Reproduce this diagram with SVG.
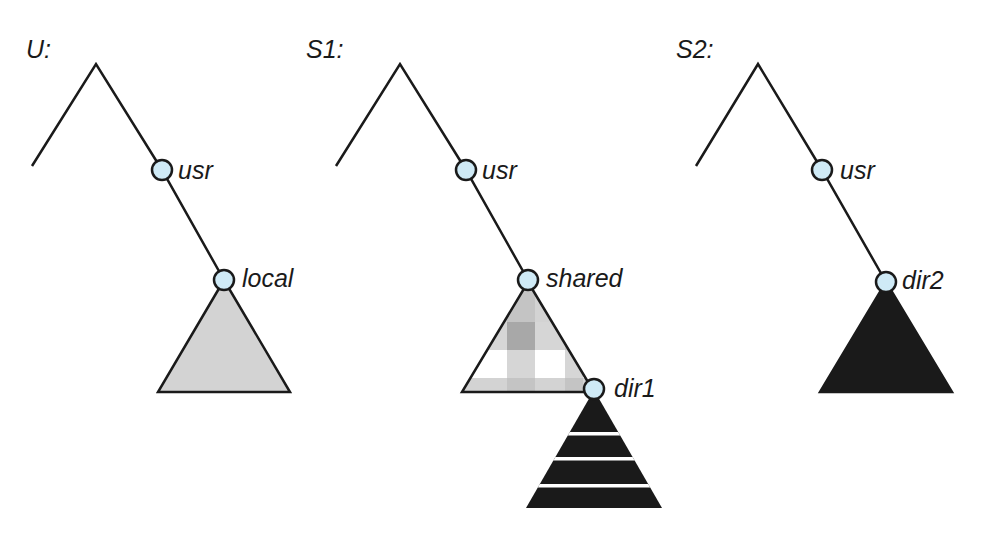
<svg xmlns="http://www.w3.org/2000/svg" width="984" height="544" viewBox="0 0 984 544">
<defs>
<style>
.l{stroke:#1a1a1a;stroke-width:2.5;fill:none}
.n{fill:#cfeaf6;stroke:#1a1a1a;stroke-width:2.5}
.t{font-family:"Liberation Sans",Arial,sans-serif;font-style:italic;font-size:25px;fill:#1a1a1a}
.tri{stroke:#1a1a1a;stroke-width:2.5;stroke-linejoin:miter}
</style>
<clipPath id="c1"><polygon points="528,282 462,392 594,392"/></clipPath>
<clipPath id="c2"><polygon points="594,390 526,508 662,508"/></clipPath>
</defs>
<g id="connectors">
<polyline class="l" points="32,166 96,64 162,170 224,280"/>
<polyline class="l" points="336,166 400,64 466,170 528,280"/>
<polyline class="l" points="696,166 758,64 822,170 886,282"/>
</g>
<g id="labels">
<text class="t" x="26" y="58">U:</text>
<text class="t" x="306" y="58">S1:</text>
<text class="t" x="676" y="58">S2:</text>
</g>
<g id="local">
<polygon class="tri" points="224,280 158,392 290,392" fill="#d3d3d3"/>
</g>
<g id="shared">
<g clip-path="url(#c1)">
<rect x="450" y="270" width="160" height="130" fill="#fff"/>
<rect x="450" y="270" width="160" height="52" fill="#d3d3d3"/>
<rect x="450" y="378" width="160" height="20" fill="#d3d3d3"/>
<rect x="507" y="270" width="28" height="130" fill="#bbb" opacity="0.6"/>
<rect x="565" y="270" width="18" height="130" fill="#bbb" opacity="0.6"/>
<rect x="450" y="322" width="160" height="28" fill="#bbb" opacity="0.6"/>
<rect x="507" y="322" width="28" height="28" fill="#a8a8a8"/>
</g>
<polygon class="tri" points="528,282 462,392 594,392" fill="none"/>
</g>
<g id="dir1tree">
<polygon points="594,390 526,508 662,508" fill="#1a1a1a"/>
<g clip-path="url(#c2)" fill="#fff">
<rect x="520" y="432" width="150" height="3.5"/>
<rect x="520" y="457" width="150" height="3.5"/>
<rect x="520" y="484" width="150" height="3.5"/>
</g>
</g>
<g id="dir2tree">
<polygon class="tri" points="886,282 820,392 952,392" fill="#1a1a1a"/>
</g>
<g id="nodes">
<circle class="n" cx="162" cy="170" r="10"/><text class="t" x="178" y="179">usr</text>
<circle class="n" cx="224" cy="280" r="10"/><text class="t" x="242" y="287">local</text>
<circle class="n" cx="466" cy="170" r="10"/><text class="t" x="482" y="179">usr</text>
<circle class="n" cx="528" cy="280" r="10"/><text class="t" x="546" y="287">shared</text>
<circle class="n" cx="594" cy="389" r="10"/><text class="t" x="614" y="397">dir1</text>
<circle class="n" cx="822" cy="170" r="10"/><text class="t" x="840" y="179">usr</text>
<circle class="n" cx="886" cy="282" r="10"/><text class="t" x="902" y="289">dir2</text>
</g>
</svg>
